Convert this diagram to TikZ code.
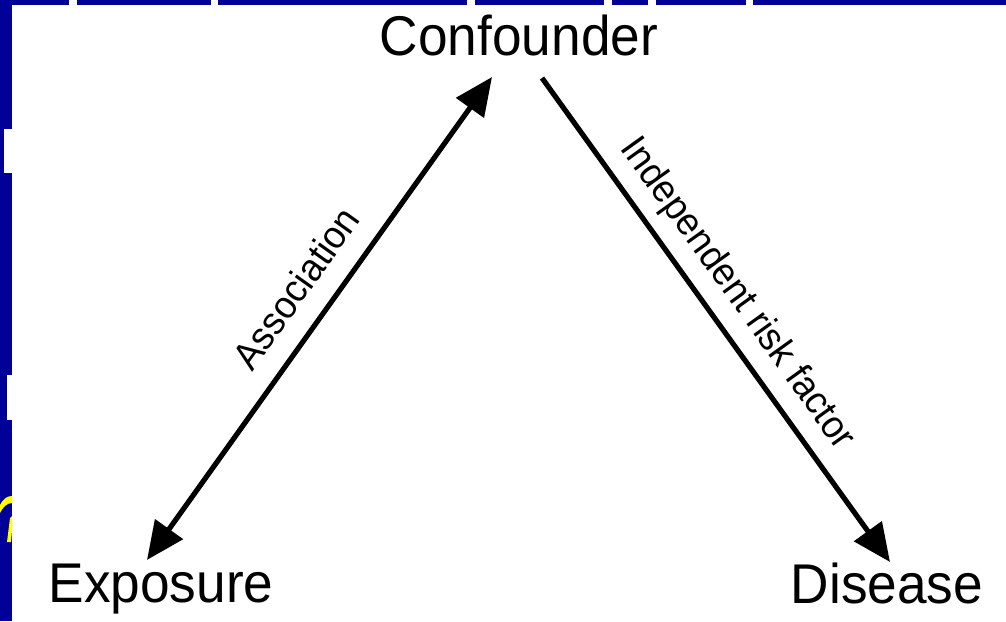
\documentclass[tikz,border=0pt]{standalone}
\usepackage{fontspec}
\setmainfont{Liberation Sans}
\usetikzlibrary{arrows.meta}
\definecolor{slideblue}{RGB}{0,0,153}
\definecolor{slideyellow}{RGB}{255,255,0}
\begin{document}
\begin{tikzpicture}[x=0.75pt,y=-0.75pt,
  bigtext/.style={inner sep=0pt, anchor=base, font=\fontsize{42pt}{42pt}\selectfont},
  smalltext/.style={inner sep=0pt, anchor=base, font=\fontsize{29pt}{29pt}\selectfont},
  headtip/.tip={Triangle[length=28.5pt,width=25pt]},
  arr/.style={line width=3.9pt, -headtip},
  dblarr/.style={line width=3.9pt, headtip-headtip},
  ]
\useasboundingbox (0,0) rectangle (1006,621);
\fill[white] (0,0) rectangle (1006,621);
% slide background strips
\fill[slideblue] (0,0) rectangle (12,621);
\foreach \a/\b in {0/69, 77/211, 218/467, 475/604, 612/648, 656/746, 753/1006}
  \fill[slideblue] (\a,0) rectangle (\b,5);
\fill[white] (4,129) rectangle (12,173);
\fill[white] (7,375) rectangle (12,420);
\fill[slideyellow] (0,505) .. controls (3,499) and (7,496) .. (12,496) -- (12,503) .. controls (7,503) and (3,507) .. (0,513) -- cycle;
\fill[slideyellow] (10,518) -- (12,516) -- (12,530) -- (11,542) -- (7,542) -- cycle;
% nodes
\node[bigtext] (conf) at (519,55) {\scalebox{0.95}[1]{Confounder}};
\node[bigtext] (expo) at (161,602) {\scalebox{0.95}[1]{Exposure}};
\node[bigtext] (dis) at (887,603) {\scalebox{0.95}[1]{Disease}};
% connector ends
\coordinate (a1top) at (492,77);
\coordinate (a1bot) at (147,560);
\coordinate (a2top) at (542,78);
\coordinate (a2bot) at (890,562);
\draw[dblarr] (a1top) -- (a1bot);
\draw[arr] (a2top) -- (a2bot);
% labels
\node[smalltext, rotate=54.5] (assoc) at (307,296) {\scalebox{0.95}[1]{Association}};
\node[smalltext, rotate=-54.3] (irf) at (729,300) {\scalebox{0.95}[1]{Independent risk factor}};
\end{tikzpicture}
\end{document}
